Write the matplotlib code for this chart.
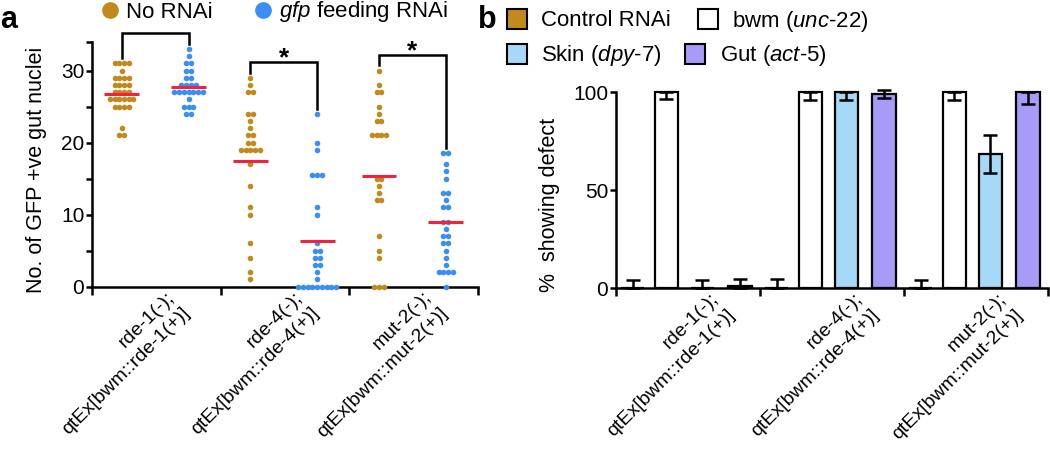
import numpy as np
import matplotlib
matplotlib.use("Agg")
import matplotlib.pyplot as plt
from matplotlib.lines import Line2D
from matplotlib.patches import Patch
import matplotlib.transforms as mtransforms

plt.rcParams['font.family'] = ['Liberation Sans', 'DejaVu Sans']
plt.rcParams['mathtext.fontset'] = 'custom'
plt.rcParams['mathtext.rm'] = 'Liberation Sans'
plt.rcParams['mathtext.it'] = 'Liberation Sans:italic'

# ---------------- data ----------------
genotypes = ["rde-1(-);\nqtEx[bwm::rde-1(+)]",
             "rde-4(-);\nqtEx[bwm::rde-4(+)]",
             "mut-2(-);\nqtEx[bwm::mut-2(+)]"]

# panel a: GFP+ gut nuclei per animal
no_rnai = [
    [31, 31, 31, 31, 30, 29, 29, 29, 29, 28, 28, 28, 28, 27, 27, 27, 27,
     26, 26, 26, 26, 26, 26, 25, 25, 25, 25, 22, 21, 21],
    [29, 28, 27, 27, 24, 24, 23, 22, 21, 21, 20, 20, 19, 19, 19, 19, 19,
     17, 14, 11, 10, 6, 4, 2, 1],
    [30, 28, 27, 27, 25, 24, 23, 23, 21, 21, 21, 21, 15, 15, 14, 13, 12, 12,
     7, 5, 4, 0, 0, 0],
]
gfp_rnai = [
    [33, 32, 31, 31, 30, 30, 29, 29, 28, 28, 28, 28, 27, 27, 27, 27, 27, 27,
     27, 26, 25, 25, 25, 24, 24],
    [24, 20, 19, 15.5, 15.5, 15.5, 11, 10, 6, 5, 5, 4, 4, 3, 3, 2, 1,
     0, 0, 0, 0, 0, 0, 0, 0, 0],
    [18.5, 18.5, 17, 16, 15, 13, 13, 12, 11, 11, 9, 9, 8, 7, 7, 6, 6, 5, 4,
     3, 2, 2, 2, 2, 0],
]
mean_no_rnai = [26.8, 17.5, 15.4]
mean_gfp_rnai = [27.7, 6.3, 8.9]
significance = ["", "*", "*"]

# panel b: % showing defect
tissue_labels = ["Control RNAi", "bwm ($\\mathit{unc}$-$\\mathit{22}$)",
                 "Skin ($\\mathit{dpy}$-$\\mathit{7}$)", "Gut ($\\mathit{act}$-$\\mathit{5}$)"]
control_pct = [0, 0, 0]
control_err = [4, 4.4, 4]
bwm_pct = [100, 100, 100]
bwm_err = [3.5, 4, 4]
skin_pct = [0, 100, 68.5]
skin_err = [4, 4, 9.8]
gut_pct = [1.2, 99, 100]
gut_err = [3.5, 2, 6]

# ---------------- style ----------------
GOLD = '#C28A1C'
BLUE = '#3B8FF2'
RED = '#F2213F'
SKIN = '#A6D9F7'
GUT = '#A69BF7'
LW = 1.8
FS = 15
XFS = 14

W, H = 1050, 451
fig = plt.figure(figsize=(W / 100, H / 100), dpi=100)

def px(x0, y_top, x1, y_bot):
    return [x0 / W, 1 - y_bot / H, (x1 - x0) / W, (y_bot - y_top) / H]

def style_xlabels(ax, dx_px):
    ax.set_xticks([0, 1, 2, 3])
    ax.set_xticklabels([])
    ax.tick_params(axis='x', which='major', length=6, width=LW)
    ax.set_xticks([0.5, 1.5, 2.5], minor=True)
    ax.set_xticklabels(genotypes, minor=True, rotation=45, ha='right', va='top',
                       rotation_mode='anchor', fontsize=XFS, linespacing=1.4)
    ax.tick_params(axis='x', which='minor', length=0, pad=1.5)
    off = mtransforms.ScaledTranslation(dx_px / 100, 0, fig.dpi_scale_trans)
    for lab in ax.get_xticklabels(minor=True):
        lab.set_transform(lab.get_transform() + off)

# ---------------- panel a ----------------
axA = fig.add_axes(px(92, 41.7, 478, 286.5))
axA.set_xlim(0, 3)
axA.set_ylim(0, 34)
ax_w_px = 386
spacing = 4.7 / ax_w_px * 3

def swarm(vals, center):
    vals = np.asarray(vals, dtype=float)
    xs, ys = [], []
    for v in np.unique(vals):
        k = int(np.sum(vals == v))
        offs = (np.arange(k) - (k - 1) / 2) * spacing
        xs.extend(center + offs)
        ys.extend([v] * k)
    return np.array(xs), np.array(ys)

gold_off, blue_off, half = 0.23, 0.75, 0.135
for g in range(3):
    for vals, off, col, m in ((no_rnai[g], gold_off, GOLD, mean_no_rnai[g]),
                              (gfp_rnai[g], blue_off, BLUE, mean_gfp_rnai[g])):
        xs, ys = swarm(vals, g + off)
        axA.scatter(xs, ys, s=16, color=col, linewidths=0, zorder=3, clip_on=False)
        axA.hlines(m, g + off - half, g + off + half, color=RED, lw=2.2, zorder=4)
    # bracket
    mg, mb = max(no_rnai[g]), max(gfp_rnai[g])
    top = max(mg, mb) + 2.2
    xa, xb = g + gold_off, g + blue_off
    axA.plot([xa, xa, xb, xb], [mg + 0.7, top, top, mb + 0.7], color='k', lw=LW,
             clip_on=False, solid_joinstyle='miter')
    if significance[g]:
        axA.text((xa + xb) / 2, top - 1.2, significance[g], ha='center', va='bottom',
                 fontsize=19, fontweight='bold')

for s in ('top', 'right'):
    axA.spines[s].set_visible(False)
for s in ('left', 'bottom'):
    axA.spines[s].set_linewidth(LW)
axA.set_yticks([0, 5, 10, 15, 20, 25, 30, 34])
axA.set_yticklabels(['0', '', '10', '', '20', '', '30', ''], fontsize=FS)
axA.tick_params(axis='y', length=4.5, width=LW, pad=1)
style_xlabels(axA, 9)
axA.set_ylabel('No. of GFP +ve gut nuclei', fontsize=15.5)
axA.yaxis.set_label_coords((47 - 92) / 386, (286.5 - 170) / 244.8)

# ---------------- panel b ----------------
axB = fig.add_axes(px(616, 92, 1048, 288))
axB.set_xlim(0, 3)
axB.set_ylim(0, 100)
bar_offsets = [0.117, 0.349, 0.60, 0.861]
bar_w = 0.16
series = [(control_pct, control_err, GOLD), (bwm_pct, bwm_err, 'white'),
          (skin_pct, skin_err, SKIN), (gut_pct, gut_err, GUT)]
groups = np.arange(3)
for (vals, errs, col), off in zip(series, bar_offsets):
    vals = np.asarray(vals, float)
    errs = np.asarray(errs, float)
    x = groups + off
    axB.bar(x, vals, width=bar_w, color=col, edgecolor='k', linewidth=1.6, zorder=2,
            clip_on=False)
    lower = np.minimum(errs, vals)
    upper = np.where(vals < 100, errs, 0)
    axB.errorbar(x, vals, yerr=[lower, upper], fmt='none', ecolor='k', elinewidth=LW,
                 capsize=4.7, capthick=LW, zorder=3, clip_on=False)

for s in ('top', 'right'):
    axB.spines[s].set_visible(False)
for s in ('left', 'bottom'):
    axB.spines[s].set_linewidth(LW)
axB.set_yticks([0, 50, 100])
axB.set_yticklabels(['0', '50', '100'], fontsize=FS)
axB.tick_params(axis='y', length=4.5, width=LW, pad=1)
style_xlabels(axB, 22)
axB.set_ylabel('%  showing defect', fontsize=15.5)
axB.yaxis.set_label_coords((560 - 616) / 432, (288 - 205) / 196)

# ---------------- legends & panel letters ----------------
fig.text(0 / W, 1 - 5 / H, 'a', fontsize=22, fontweight='bold', ha='left', va='top')
fig.text(478 / W, 1 - 5 / H, 'b', fontsize=22, fontweight='bold', ha='left', va='top')

hA = [Line2D([], [], ls='', marker='o', color=GOLD, markersize=11),
      Line2D([], [], ls='', marker='o', color=BLUE, markersize=11)]
fig.legend(hA, ['No RNAi', '$\\mathit{gfp}$ feeding RNAi'], loc='center left',
           bbox_to_anchor=(99 / W, 1 - 12 / H), ncol=2, frameon=False, fontsize=16,
           handlelength=1.0, handletextpad=0.2, columnspacing=1.8,
           borderpad=0, borderaxespad=0)

cols = [GOLD, 'white', SKIN, GUT]
hB = [Patch(facecolor=c, edgecolor='k', linewidth=1.5) for c in cols]
fig.legend([hB[0], hB[1]], [tissue_labels[0], tissue_labels[1]], loc='center left',
           bbox_to_anchor=(507 / W, 1 - 21 / H), ncol=2, frameon=False, fontsize=16,
           handlelength=0.9, handleheight=1.0, handletextpad=0.65, columnspacing=1.2,
           borderpad=0, borderaxespad=0)
fig.legend([hB[2], hB[3]], [tissue_labels[2], tissue_labels[3]], loc='center left',
           bbox_to_anchor=(507 / W, 1 - 56 / H), ncol=2, frameon=False, fontsize=16,
           handlelength=0.9, handleheight=1.0, handletextpad=0.65, columnspacing=1.05,
           borderpad=0, borderaxespad=0)

fig.savefig('out.png', dpi=100)
